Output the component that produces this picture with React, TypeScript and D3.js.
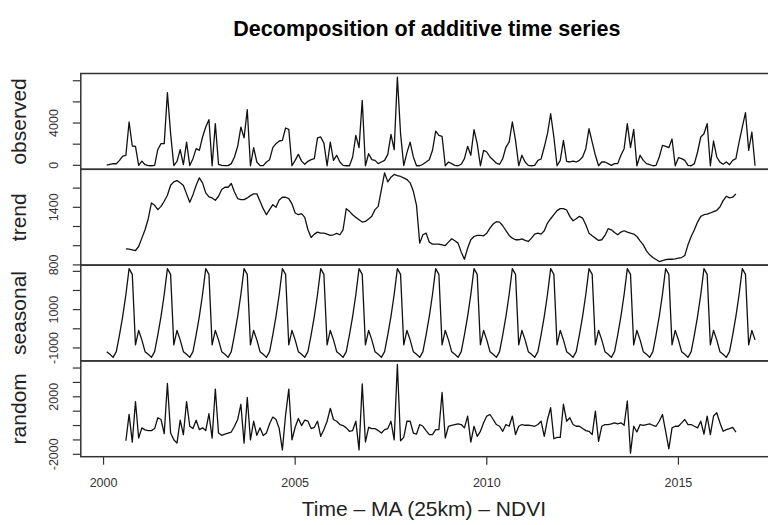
import React from "react";
import * as d3 from "d3";

// ---------- data ----------
const frequency = 12; // monthly series
const startYear = 2000;
const startPeriod = 2; // first observation: February 2000
const trendOffset = 6; // trend / random start 6 observations later

const observed = [
  20, 100, 160, 150, 470, 880, 950, 4100, 1830, 1800, 0, 400,
  60, -30, -40, 0, 1500, 2050, 2050, 6870, 3000, -20, 380, 1480,
  60, 2200, -20, 630, 1575, 1420, 2680, 3620, 4320, -40, 3940, 100,
  0, -30, -30, 160, 790, 1800, 3620, 2600, 5260, -40, 1670, 315,
  -30, -30, 315, 535, 1670, 2050, 2300, 2360, 3530, 3400, -40, 470,
  1040, 400, 100, 380, 535, 630, 2600, 2680, 2100, -40, 2200, 470,
  950, 315, 0, -40, -40, 790, 2830, 1670, 6140, -40, 1100, 535,
  470, 160, 315, 470, 1040, 2930, 1480, 8350, 3000, -20, 1200, 2200,
  790, -40, -40, 100, 315, 535, 1420, 3240, 2830, 2740, -40, 315,
  160, 0, -40, 100, 630, 1800, 950, 3370, 2050, -40, 1420, 1260,
  790, 500, 200, 100, 630, 1730, 2200, 4100, 2360, -40, 950, 315,
  0, -40, 0, 470, 600, 1730, 2990, 4880, 2680, -40, 470, 2360,
  380, 315, 400, 315, 470, 790, 1575, 3460, 2200, 950, -40, 315,
  315, 160, 0, 160, 160, 950, 1575, 3940, 1670, 3400, -40, 950,
  470, 160, 60, -40, 0, 790, 1890, 1800, 1670, 2490, -40, 720,
  630, 470, 0, -40, 160, 1260, 2680, 2990, 3940, -40, 2300, 790,
  300, 100, 315, 60, 470, 630, 2200, 3620, 4980, 1420, 3150, -40,
];

const trend = [
  967, 964, 957, 950, 992, 1079, 1166, 1281, 1445, 1421, 1376, 1410,
  1463, 1525, 1630, 1665, 1679, 1655, 1627, 1540, 1452, 1532, 1630, 1707,
  1655, 1550, 1508, 1498, 1473, 1515, 1585, 1609, 1609, 1648, 1560, 1491,
  1480, 1480, 1498, 1522, 1540, 1540, 1463, 1386, 1323, 1376, 1428, 1400,
  1477, 1505, 1505, 1491, 1435, 1341, 1323, 1334, 1295, 1166, 1086, 1121,
  1142, 1131, 1131, 1121, 1107, 1114, 1128, 1114, 1166, 1386, 1358, 1323,
  1295, 1271, 1246, 1253, 1278, 1306, 1376, 1410, 1585, 1759, 1665, 1714,
  1742, 1731, 1721, 1707, 1689, 1655, 1567, 1420, 1027, 1114, 1131, 1037,
  1016, 1016, 1016, 1009, 1002, 1037, 1072, 1051, 1027, 933, 859, 974,
  1062, 1096, 1107, 1107, 1103, 1131, 1184, 1226, 1250, 1246, 1208, 1156,
  1107, 1079, 1062, 1062, 1072, 1055, 1044, 1079, 1121, 1131, 1121, 1156,
  1236, 1281, 1323, 1365, 1386, 1386, 1372, 1306, 1260, 1281, 1306, 1288,
  1218, 1131, 1103, 1079, 1055, 1062, 1107, 1177, 1166, 1138, 1114, 1142,
  1156, 1142, 1131, 1121, 1096, 1051, 1009, 946, 905, 877, 856, 835,
  845, 856, 859, 859, 863, 870, 877, 898, 1009, 1096, 1166, 1246,
  1306, 1323, 1330, 1341, 1355, 1369, 1403, 1470, 1515, 1498, 1505, 1540,
];

// seasonal figure, one value per position in the 12-month cycle
const seasonalFigure = [-1193, -1333, -1491, -1193, -316, 649, 1789, 3140, 2842, -842, -88, -579];

const random = [
  -1060, 780, -1150, 1670, -870, -160, -300, -350, -350, -210, 540, 420,
  -560, 2930, -520, -990, -1220, 375, -630, 1670, -50, -210, 375, -280,
  -160, -350, 820, -870, 2540, -520, -680, -590, -520, -450, -50, 420,
  1480, -1220, 1950, -990, 300, -680, -160, -700, -520, 120, 590, 420,
  -210, -1690, 730, 2540, -990, -120, 490, 0, 375, 300, -210, -120,
  300, -750, -280, 300, 1200, 420, 300, 70, 0, -160, -400, -350,
  300, -1690, 2890, -1150, -120, -210, -210, -350, -520, -280, -210, 300,
  -990, 4250, -1060, -820, 300, 300, -520, -590, 70, -50, -350, -630,
  -630, -280, -280, 2300, -870, -50, 20, 70, 120, 70, -160, 660,
  -1150, -50, -750, -400, 190, 660, 770, 420, 70, -50, -400, 70,
  -50, 660, -630, -50, 70, 20, 20, 0, -50, 70, 300, -750,
  420, 1240, -920, -820, -820, 1480, 300, 540, 70, -50, -50, -210,
  -350, -400, -630, 1000, -1100, -50, 70, 70, 120, 190, 120, 190,
  20, 1710, -1920, -50, -450, 70, 20, 70, 120, 20, -50, 300,
  770, -400, -1620, -160, -50, -50, 190, 420, 70, 70, -50, -160,
  300, -590, 660, -630, 660, 890, 190, -400, -280, -210, -120, -450,
];

const panelNames = ["observed", "trend", "seasonal", "random"];
const yTickValues = [
  [0, 2000, 4000, 6000, 8000],
  [800, 1000, 1200, 1400, 1600],
  [-1000, 0, 1000, 2000, 3000],
  [-2000, -1000, 0, 1000, 2000, 3000, 4000],
];
const yTickLabels = [
  [["0", 0], ["4000", 4000]],
  [["800", 800], ["1400", 1400]],
  [["-1000", -1000], ["1000", 1000]],
  [["-2000", -2000], ["2000", 2000]],
] as [string, number][][];
const xTicks = [2000, 2005, 2010, 2015];
const titleText = "Decomposition of additive time series";
const xLabel = "Time \u2013 MA (25km) \u2013 NDVI";

// ---------- layout ----------
const W = 768;
const H = 525;
const left = 80.8;
const right = 781;
const top = 73.5;
const panelH = 95.8;
const font = "'Liberation Sans', Arial, Helvetica, sans-serif";

export default function App() {
  const tStart = startYear + (startPeriod - 1) / frequency;
  const time = (i: number) => tStart + i / frequency;
  const seasonal = observed.map((_, i) => seasonalFigure[i % 12]);
  const series: { vals: number[]; off: number }[] = [
    { vals: observed, off: 0 },
    { vals: trend, off: trendOffset },
    { vals: seasonal, off: 0 },
    { vals: random, off: trendOffset },
  ];
  const tEnd = time(observed.length - 1);
  const tPad = (tEnd - tStart) * 0.04;
  const x = d3.scaleLinear().domain([tStart - tPad, tEnd + tPad]).range([left, right]);

  const panels = series.map((s, k) => {
    const [mn, mx] = d3.extent(s.vals) as [number, number];
    const pad = (mx - mn) * 0.04;
    const y0 = top + k * panelH;
    const y = d3.scaleLinear().domain([mn - pad, mx + pad]).range([y0 + panelH, y0]);
    const line = d3
      .line<number>()
      .x((_, i) => x(time(s.off + i)))
      .y((v) => y(v));
    return { y, y0, path: line(s.vals) || "" };
  });

  const bottom = top + 4 * panelH;
  const midX = (left + right) / 2;

  return (
    <svg width={W} height={H} style={{ position: "absolute", left: 0, top: 0, background: "#fff" }} fontFamily={font}>
      <rect x={0} y={0} width={W} height={H} fill="#fff" />
      <text x={midX - 4} y={30} textAnchor="middle" dominantBaseline="middle" fontWeight="bold" fontSize={21.5} fill="#000">
        {titleText}
      </text>
      {panels.map((p, k) => (
        <g key={k}>
          <path d={p.path} fill="none" stroke="#111" strokeWidth={1.3} strokeLinejoin="round" />
          <rect x={left} y={p.y0} width={right - left} height={panelH} fill="none" stroke="#333" strokeWidth={1.5} />
          {yTickValues[k].map((v) => (
            <line key={v} x1={left - 8} x2={left} y1={p.y(v)} y2={p.y(v)} stroke="#333" strokeWidth={1.2} />
          ))}
          {yTickLabels[k].map(([txt, v]) => (
            <text
              key={txt}
              transform={`translate(${55},${p.y(v)}) rotate(-90)`}
              textAnchor="middle"
              dominantBaseline="middle"
              fontSize={12.5}
              fill="#333"
            >
              {txt}
            </text>
          ))}
          <text
            transform={`translate(${20},${p.y0 + panelH / 2}) rotate(-90)`}
            textAnchor="middle"
            dominantBaseline="middle"
            fontSize={21}
            fill="#222"
          >
            {panelNames[k]}
          </text>
        </g>
      ))}
      {xTicks.map((t) => (
        <g key={t}>
          <line x1={x(t)} x2={x(t)} y1={bottom} y2={bottom + 8} stroke="#333" strokeWidth={1.2} />
          <text x={x(t)} y={bottom + 27} textAnchor="middle" dominantBaseline="middle" fontSize={12.5} fill="#333">
            {t}
          </text>
        </g>
      ))}
      <text x={midX - 7} y={bottom + 54} textAnchor="middle" dominantBaseline="middle" fontSize={21} fill="#222">
        {xLabel}
      </text>
    </svg>
  );
}
